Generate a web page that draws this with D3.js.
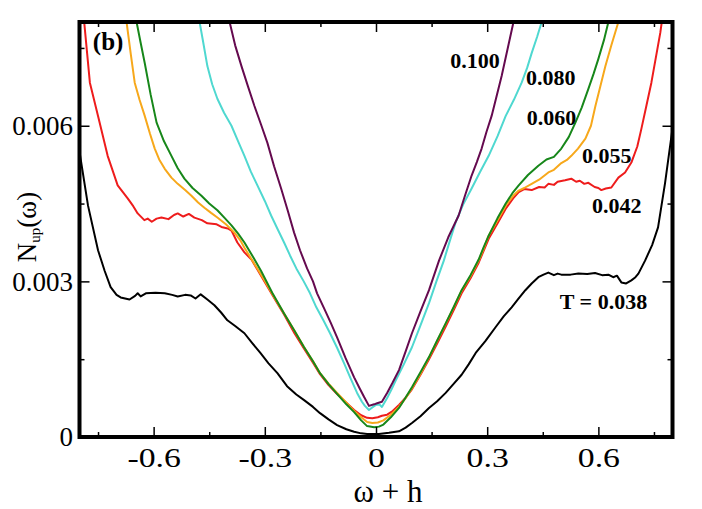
<!DOCTYPE html>
<html>
<head>
<meta charset="utf-8">
<script src="https://cdn.jsdelivr.net/npm/d3@7"></script>
<style>
  html, body { margin: 0; padding: 0; background: #fff; }
  svg { display: block; }
</style>
</head>
<body>
<svg id="chart" width="702" height="509"></svg>
<script>
// ---------- DATA ----------
const seriesNames = ["T = 0.038", "0.042", "0.055", "0.060", "0.080", "0.100"];
const xTickLabels = ["-0.6", "-0.3", "0", "0.3", "0.6"];
const xTickValues = [-0.6, -0.3, 0, 0.3, 0.6];
const xMinorValues = [-0.75, -0.45, -0.15, 0.15, 0.45, 0.75];
const yTickLabels = ["0", "0.003", "0.006"];
const yTickValues = [0, 0.003, 0.006];
const yMinorValues = [0.0015, 0.0045, 0.0075];

// [omega + h, N_up]
const t038 = [
  [-0.800,0.00550],[-0.777,0.00446],[-0.750,0.00360],[-0.732,0.00320],[-0.716,0.00289],
  [-0.700,0.00274],[-0.689,0.00269],[-0.665,0.00265],[-0.650,0.00272],[-0.643,0.00277],
  [-0.635,0.00271],[-0.621,0.00277],[-0.595,0.00278],[-0.570,0.00277],[-0.550,0.00274],
  [-0.535,0.00271],[-0.515,0.00274],[-0.500,0.00273],[-0.487,0.00267],[-0.473,0.00275],
  [-0.455,0.00265],[-0.436,0.00254],[-0.418,0.00240],[-0.401,0.00225],[-0.380,0.00214],
  [-0.355,0.00200],[-0.335,0.00182],[-0.312,0.00162],[-0.290,0.00142],[-0.266,0.00123],
  [-0.240,0.00098],[-0.215,0.00082],[-0.194,0.00071],[-0.170,0.00058],[-0.151,0.00046],
  [-0.128,0.00034],[-0.105,0.00023],[-0.080,0.00015],[-0.059,0.00010],[-0.040,0.00007],
  [-0.024,0.00006],[0.008,0.00006],[0.035,0.00008],[0.062,0.00011],[0.080,0.00018],
  [0.097,0.00027],[0.120,0.00040],[0.143,0.00056],[0.165,0.00069],[0.188,0.00085],
  [0.210,0.00103],[0.231,0.00120],[0.250,0.00140],[0.269,0.00162],[0.295,0.00185],
  [0.323,0.00212],[0.345,0.00233],[0.366,0.00250],[0.385,0.00267],[0.403,0.00283],
  [0.420,0.00296],[0.438,0.00308],[0.452,0.00313],[0.465,0.00317],[0.480,0.00312],
  [0.490,0.00315],[0.500,0.00313],[0.525,0.00313],[0.546,0.00315],[0.570,0.00314],
  [0.591,0.00316],[0.610,0.00312],[0.627,0.00313],[0.640,0.00308],[0.650,0.00311],
  [0.662,0.00298],[0.675,0.00296],[0.689,0.00302],[0.700,0.00308],[0.708,0.00315],
  [0.726,0.00340],[0.745,0.00370],[0.761,0.00404],[0.780,0.00490],[0.800,0.00595]
];
const t042 = [
  [-0.790,0.00820],[-0.772,0.00683],[-0.750,0.00619],[-0.724,0.00542],[-0.697,0.00485],
  [-0.670,0.00460],[-0.655,0.00445],[-0.643,0.00431],[-0.625,0.00418],[-0.616,0.00421],
  [-0.605,0.00415],[-0.592,0.00421],[-0.579,0.00423],[-0.560,0.00420],[-0.545,0.00428],
  [-0.535,0.00431],[-0.520,0.00425],[-0.505,0.00430],[-0.490,0.00423],[-0.470,0.00418],
  [-0.455,0.00412],[-0.430,0.00410],[-0.417,0.00405],[-0.400,0.00402],[-0.390,0.00398],
  [-0.374,0.00375],[-0.355,0.00356],[-0.336,0.00342],[-0.301,0.00300],[-0.270,0.00262],
  [-0.248,0.00236],[-0.220,0.00200],[-0.194,0.00170],[-0.170,0.00143],[-0.151,0.00121],
  [-0.128,0.00100],[-0.105,0.00083],[-0.080,0.00066],[-0.059,0.00052],[-0.040,0.00042],
  [-0.024,0.00037],[-0.010,0.00036],[0.005,0.00038],[0.016,0.00041],[0.030,0.00043],
  [0.045,0.00050],[0.062,0.00062],[0.080,0.00076],[0.097,0.00092],[0.120,0.00120],
  [0.143,0.00150],[0.165,0.00180],[0.188,0.00213],[0.210,0.00245],[0.231,0.00277],
  [0.255,0.00306],[0.277,0.00336],[0.304,0.00382],[0.328,0.00412],[0.350,0.00440],
  [0.370,0.00460],[0.385,0.00472],[0.400,0.00478],[0.420,0.00476],[0.440,0.00482],
  [0.455,0.00481],[0.465,0.00488],[0.480,0.00486],[0.490,0.00492],[0.510,0.00495],
  [0.527,0.00498],[0.540,0.00492],[0.550,0.00494],[0.562,0.00488],[0.573,0.00490],
  [0.590,0.00482],[0.600,0.00480],[0.608,0.00476],[0.620,0.00479],[0.635,0.00481],
  [0.654,0.00500],[0.672,0.00510],[0.689,0.00529],[0.705,0.00560],[0.716,0.00594],
  [0.730,0.00640],[0.743,0.00683],[0.767,0.00779],[0.775,0.00820]
];
const t055 = [
  [-0.680,0.00820],[-0.673,0.00800],[-0.662,0.00740],[-0.651,0.00683],[-0.638,0.00650],
  [-0.624,0.00619],[-0.610,0.00585],[-0.597,0.00556],[-0.585,0.00535],[-0.570,0.00517],
  [-0.552,0.00500],[-0.535,0.00488],[-0.515,0.00476],[-0.498,0.00465],[-0.480,0.00452],
  [-0.463,0.00442],[-0.445,0.00432],[-0.428,0.00423],[-0.405,0.00410],[-0.382,0.00394],
  [-0.365,0.00378],[-0.355,0.00365],[-0.330,0.00336],[-0.301,0.00302],[-0.275,0.00270],
  [-0.248,0.00238],[-0.220,0.00205],[-0.194,0.00173],[-0.170,0.00146],[-0.151,0.00123],
  [-0.128,0.00103],[-0.105,0.00085],[-0.080,0.00066],[-0.059,0.00050],[-0.040,0.00038],
  [-0.024,0.00029],[-0.010,0.00027],[0.005,0.00028],[0.020,0.00032],[0.040,0.00043],
  [0.062,0.00058],[0.080,0.00075],[0.097,0.00094],[0.120,0.00122],[0.143,0.00153],
  [0.165,0.00185],[0.188,0.00218],[0.210,0.00250],[0.231,0.00282],[0.255,0.00310],
  [0.277,0.00340],[0.290,0.00362],[0.304,0.00388],[0.328,0.00418],[0.350,0.00446],
  [0.370,0.00465],[0.385,0.00475],[0.400,0.00480],[0.420,0.00488],[0.440,0.00496],
  [0.465,0.00510],[0.480,0.00515],[0.500,0.00528],[0.515,0.00534],[0.527,0.00542],
  [0.545,0.00556],[0.565,0.00575],[0.580,0.00600],[0.592,0.00638],[0.605,0.00675],
  [0.619,0.00715],[0.635,0.00755],[0.654,0.00800],[0.660,0.00820]
];
const t060 = [
  [-0.650,0.00820],[-0.646,0.00800],[-0.635,0.00760],[-0.624,0.00721],[-0.608,0.00660],
  [-0.592,0.00606],[-0.572,0.00570],[-0.552,0.00542],[-0.535,0.00518],[-0.517,0.00498],
  [-0.495,0.00480],[-0.471,0.00465],[-0.450,0.00450],[-0.428,0.00437],[-0.408,0.00422],
  [-0.390,0.00408],[-0.372,0.00392],[-0.355,0.00375],[-0.330,0.00345],[-0.310,0.00320],
  [-0.280,0.00278],[-0.248,0.00238],[-0.220,0.00205],[-0.194,0.00173],[-0.170,0.00146],
  [-0.151,0.00123],[-0.128,0.00102],[-0.105,0.00083],[-0.080,0.00063],[-0.059,0.00048],
  [-0.040,0.00032],[-0.024,0.00021],[-0.005,0.00019],[0.008,0.00020],[0.020,0.00024],
  [0.040,0.00038],[0.062,0.00056],[0.080,0.00076],[0.097,0.00096],[0.120,0.00125],
  [0.143,0.00154],[0.165,0.00186],[0.188,0.00219],[0.210,0.00251],[0.231,0.00283],
  [0.255,0.00312],[0.277,0.00342],[0.290,0.00365],[0.304,0.00388],[0.328,0.00422],
  [0.350,0.00450],[0.368,0.00470],[0.385,0.00485],[0.410,0.00505],[0.438,0.00523],
  [0.460,0.00535],[0.480,0.00540],[0.500,0.00556],[0.520,0.00578],[0.538,0.00606],
  [0.555,0.00635],[0.573,0.00671],[0.587,0.00700],[0.600,0.00729],[0.615,0.00765],
  [0.627,0.00800],[0.632,0.00820]
];
const t080 = [
  [-0.485,0.00830],[-0.476,0.00800],[-0.466,0.00760],[-0.455,0.00715],[-0.442,0.00680],
  [-0.428,0.00652],[-0.410,0.00625],[-0.390,0.00600],[-0.372,0.00570],[-0.355,0.00542],
  [-0.338,0.00512],[-0.320,0.00485],[-0.300,0.00455],[-0.283,0.00427],[-0.265,0.00400],
  [-0.248,0.00375],[-0.232,0.00350],[-0.215,0.00325],[-0.195,0.00300],[-0.178,0.00277],
  [-0.161,0.00250],[-0.142,0.00225],[-0.124,0.00200],[-0.105,0.00172],[-0.086,0.00142],
  [-0.068,0.00112],[-0.051,0.00085],[-0.038,0.00068],[-0.030,0.00060],[-0.019,0.00052],
  [-0.008,0.00058],[0.000,0.00062],[0.010,0.00062],[0.016,0.00058],[0.030,0.00075],
  [0.042,0.00092],[0.054,0.00110],[0.075,0.00140],[0.097,0.00173],[0.120,0.00215],
  [0.143,0.00258],[0.163,0.00300],[0.183,0.00340],[0.200,0.00380],[0.215,0.00414],
  [0.235,0.00448],[0.258,0.00479],[0.280,0.00510],[0.304,0.00542],[0.328,0.00580],
  [0.350,0.00619],[0.372,0.00650],[0.393,0.00683],[0.408,0.00712],[0.420,0.00740],
  [0.435,0.00772],[0.447,0.00800],[0.455,0.00830]
];
const t100 = [
  [-0.405,0.00830],[-0.395,0.00800],[-0.380,0.00755],[-0.363,0.00715],[-0.345,0.00675],
  [-0.328,0.00638],[-0.310,0.00602],[-0.293,0.00567],[-0.275,0.00522],[-0.256,0.00479],
  [-0.238,0.00436],[-0.221,0.00394],[-0.205,0.00360],[-0.186,0.00325],[-0.170,0.00300],
  [-0.159,0.00277],[-0.140,0.00248],[-0.122,0.00220],[-0.105,0.00192],[-0.082,0.00152],
  [-0.059,0.00115],[-0.045,0.00095],[-0.032,0.00077],[-0.019,0.00060],[-0.005,0.00063],
  [0.003,0.00065],[0.016,0.00068],[0.030,0.00085],[0.045,0.00105],[0.062,0.00129],
  [0.080,0.00165],[0.097,0.00200],[0.120,0.00242],[0.143,0.00283],[0.170,0.00340],
  [0.195,0.00385],[0.223,0.00427],[0.240,0.00465],[0.258,0.00504],[0.272,0.00530],
  [0.285,0.00556],[0.298,0.00588],[0.312,0.00619],[0.325,0.00656],[0.339,0.00696],
  [0.355,0.00748],[0.371,0.00800],[0.378,0.00830]
];
const seriesData = [t038, t042, t055, t060, t080, t100];

// label anchors (data coordinates) for the curve names
const labelAnchors = [[0.496,0.00247],[0.583,0.00432],[0.556,0.00528],[0.407,0.00601],[0.405,0.00679],[0.200,0.00711]];

// ---------- LAYOUT ----------
const colors = ["#000000", "#ee1c1c", "#f7a81b", "#17871a", "#4fd8d0", "#650a4f"];
const L = 79.5, R = 672.5, T = 22, B = 437;

const svg = d3.select("#chart");
const x = d3.scaleLinear().domain([-0.8, 0.8]).range([L, R]);
const y = d3.scaleLinear().domain([0, 0.008]).range([B, T]);

svg.append("defs").append("clipPath").attr("id", "clip")
  .append("rect").attr("x", L).attr("y", T).attr("width", R - L).attr("height", B - T);

// curves
const line = d3.line().x(d => x(d[0])).y(d => y(d[1]));
const g = svg.append("g").attr("clip-path", "url(#clip)");
seriesData.forEach((s, i) => {
  g.append("path").datum(s)
    .attr("d", line)
    .attr("fill", "none")
    .attr("stroke", colors[i])
    .attr("stroke-width", 2)
    .attr("stroke-linejoin", "round");
});

// axes (ticks pointing inward, mirrored on all sides)
const fontTick = "'Liberation Serif', 'Times New Roman', serif";
function styleAxis(sel) {
  sel.select(".domain").remove();
  sel.selectAll(".tick line").attr("stroke", "#000").attr("stroke-width", 1.5);
}
const xMajor = d3.axisBottom(x).tickValues(xTickValues).tickSize(-10)
  .tickFormat((d, i) => xTickLabels[i]).tickPadding(11);
const xMinor = d3.axisBottom(x).tickValues(xMinorValues).tickSize(-5).tickFormat("");
const xTopMajor = d3.axisTop(x).tickValues(xTickValues).tickSize(-10).tickFormat("");
const xTopMinor = d3.axisTop(x).tickValues(xMinorValues).tickSize(-5).tickFormat("");
const yMajor = d3.axisLeft(y).tickValues(yTickValues).tickSize(-10)
  .tickFormat((d, i) => yTickLabels[i]).tickPadding(6.5);
const yMinor = d3.axisLeft(y).tickValues(yMinorValues).tickSize(-5).tickFormat("");
const yRMajor = d3.axisRight(y).tickValues(yTickValues).tickSize(-10).tickFormat("");
const yRMinor = d3.axisRight(y).tickValues(yMinorValues).tickSize(-5).tickFormat("");

const gx = svg.append("g").attr("transform", `translate(0,${B})`).call(xMajor).call(styleAxis);
svg.append("g").attr("transform", `translate(0,${B})`).call(xMinor).call(styleAxis);
svg.append("g").attr("transform", `translate(0,${T})`).call(xTopMajor).call(styleAxis);
svg.append("g").attr("transform", `translate(0,${T})`).call(xTopMinor).call(styleAxis);
const gy = svg.append("g").attr("transform", `translate(${L},0)`).call(yMajor).call(styleAxis);
svg.append("g").attr("transform", `translate(${L},0)`).call(yMinor).call(styleAxis);
svg.append("g").attr("transform", `translate(${R},0)`).call(yRMajor).call(styleAxis);
svg.append("g").attr("transform", `translate(${R},0)`).call(yRMinor).call(styleAxis);

gx.selectAll(".tick text").attr("font-family", fontTick).attr("font-size", 27).attr("fill", "#000")
  .attr("transform", "scale(1.25,1)");
gy.selectAll(".tick text").attr("font-family", fontTick).attr("font-size", 27).attr("fill", "#000");

// frame
svg.append("rect").attr("x", L).attr("y", T).attr("width", R - L).attr("height", B - T)
  .attr("fill", "none").attr("stroke", "#000").attr("stroke-width", 4);

// axis titles
svg.append("text").attr("x", 388).attr("y", 502).attr("text-anchor", "middle")
  .attr("font-family", fontTick).attr("font-size", 31).attr("fill", "#000")
  .text("ω + h");

const yt = svg.append("text")
  .attr("transform", "translate(36,227) rotate(-90)")
  .attr("text-anchor", "middle")
  .attr("font-family", fontTick).attr("font-size", 27).attr("fill", "#000");
yt.append("tspan").text("N");
yt.append("tspan").attr("font-size", 15).attr("dy", 4).text("up");
yt.append("tspan").attr("dy", -4).text("(ω)");

// curve labels
const fontLab = "'Liberation Serif', 'Times New Roman', serif";
seriesNames.forEach((name, i) => {
  svg.append("text")
    .attr("x", x(labelAnchors[i][0])).attr("y", y(labelAnchors[i][1]))
    .attr("font-family", fontLab).attr("font-weight", "bold").attr("font-size", 22)
    .attr("fill", "#000").text(name);
});

// panel tag
svg.append("text").attr("x", x(-0.764)).attr("y", y(0.00746))
  .attr("font-family", fontLab).attr("font-weight", "bold").attr("font-size", 25)
  .attr("fill", "#000").text("(b)");
</script>
</body>
</html>
